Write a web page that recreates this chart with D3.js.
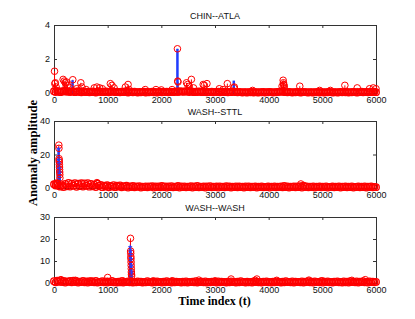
<!DOCTYPE html>
<html>
<head>
<meta charset="utf-8">
<script src="https://cdn.jsdelivr.net/npm/d3@7"></script>
<style>
body { margin: 0; background: #fff; }
text { font-family: "Liberation Sans", Arial, sans-serif; }
</style>
</head>
<body>
<script>
// subplot titles and tick labels
const titles = ["CHIN--ATLA", "WASH--STTL", "WASH--WASH"];
const xTicks = [0, 1000, 2000, 3000, 4000, 5000, 6000];
const yTicks1 = [0, 2, 4];
const yTicks2 = [0, 20, 40];
const yTicks3 = [0, 10, 20, 30];
const yMax = [4, 40, 30];

// low level background values, one every `step` time indices (0..6000)
const step = 30;
const band1 = [
  0.10,0.06,0.12,0.08,0.05,0.11,0.09,0.12,0.07,0.10,0.06,0.09,0.11,0.05,0.08,0.10,0.06,0.04,0.09,0.07,
  0.05,0.08,0.04,0.06,0.09,0.05,0.03,0.07,0.10,0.06,0.08,0.05,0.09,0.07,0.04,0.06,0.10,0.08,0.05,0.07,
  0.06,0.04,0.08,0.05,0.09,0.07,0.03,0.05,0.06,0.04,0.07,0.05,0.03,0.06,0.04,0.05,0.07,0.03,0.06,0.04,
  0.05,0.07,0.04,0.06,0.03,0.05,0.08,0.04,0.06,0.05,0.07,0.04,0.06,0.08,0.05,0.07,0.09,0.06,0.10,0.08,
  0.09,0.07,0.11,0.08,0.06,0.10,0.07,0.05,0.08,0.06,0.09,0.07,0.05,0.06,0.08,0.04,0.06,0.05,0.07,0.04,
  0.06,0.05,0.07,0.04,0.06,0.08,0.05,0.07,0.04,0.06,0.05,0.09,0.07,0.05,0.04,0.06,0.05,0.03,0.05,0.04,
  0.03,0.05,0.04,0.06,0.03,0.05,0.04,0.03,0.05,0.04,0.06,0.03,0.05,0.04,0.06,0.05,0.03,0.05,0.04,0.06,
  0.07,0.09,0.08,0.06,0.05,0.04,0.06,0.05,0.03,0.05,0.04,0.06,0.05,0.03,0.04,0.06,0.05,0.04,0.03,0.05,
  0.04,0.03,0.05,0.04,0.06,0.03,0.05,0.04,0.03,0.05,0.04,0.06,0.05,0.03,0.04,0.05,0.03,0.04,0.06,0.04,
  0.05,0.04,0.06,0.03,0.05,0.04,0.06,0.05,0.03,0.04,0.05,0.07,0.04,0.05,0.06,0.04,0.05,0.07,0.06,0.08,
  0.05
];
const band2 = [
  2.2,1.5,2.8,1.2,0.8,1.6,0.6,2.4,1.0,3.0,0.9,2.6,1.4,2.9,0.7,2.5,1.1,2.8,0.9,2.7,
  1.3,2.9,0.8,2.4,1.0,2.0,0.6,2.6,1.2,1.8,0.5,1.4,0.9,1.6,0.4,1.2,0.8,1.7,0.5,1.3,
  0.9,1.5,0.4,1.1,0.7,1.3,0.3,1.0,0.6,1.2,0.4,0.9,0.7,1.1,0.3,0.8,0.6,1.0,0.4,0.9,
  0.7,1.1,0.3,0.9,0.5,1.0,0.4,1.2,0.6,0.9,0.3,1.0,0.5,1.1,0.4,0.8,0.6,1.2,0.3,0.9,
  0.5,1.0,0.4,0.8,0.6,1.1,0.3,0.9,0.5,1.2,0.4,0.8,0.6,1.0,0.3,0.9,0.5,1.1,0.4,0.8,
  0.6,1.0,0.3,0.9,0.5,0.8,0.4,1.1,0.6,0.9,0.3,0.8,0.5,1.0,0.4,0.9,0.6,0.8,0.3,1.0,
  0.5,0.9,0.4,0.8,0.6,1.0,0.3,0.8,0.5,0.9,0.4,0.7,0.6,1.0,0.3,0.8,0.5,0.9,0.4,0.8,
  0.6,1.0,0.4,1.2,0.5,0.9,0.3,0.8,0.6,1.0,0.4,0.9,0.5,1.1,0.3,1.3,0.6,0.9,0.4,0.8,
  0.5,0.9,0.3,0.8,0.6,1.0,0.4,0.8,0.5,0.9,0.3,0.7,0.6,0.9,0.4,0.8,0.5,1.0,0.3,0.8,
  0.6,0.9,0.4,0.8,0.5,1.0,0.3,0.7,0.6,0.9,0.4,0.8,0.5,0.9,0.3,0.8,0.6,0.9,0.4,0.7,
  0.5
];
const band3 = [
  0.8,0.3,1.0,0.5,1.2,0.4,0.9,0.2,0.7,0.5,0.9,0.3,1.1,0.4,0.8,0.2,0.6,0.4,0.9,0.3,
  0.7,0.2,0.8,0.4,0.6,0.3,0.9,0.2,0.5,0.4,0.8,0.3,0.7,0.2,0.6,0.4,0.9,0.3,0.5,0.2,
  0.6,0.3,0.8,0.2,0.5,0.4,0.7,0.3,0.6,0.2,0.5,0.3,0.7,0.4,0.6,0.2,0.5,0.3,0.8,0.4,
  0.5,0.2,0.6,0.3,0.7,0.4,0.5,0.2,0.6,0.3,0.8,0.4,0.5,0.2,0.7,0.3,0.6,0.4,0.5,0.2,
  0.6,0.3,0.7,0.2,0.5,0.4,0.6,0.3,0.8,0.2,0.5,0.4,0.6,0.3,0.7,0.2,0.5,0.3,0.6,0.4,
  0.5,0.2,0.7,0.3,0.6,0.4,0.5,0.2,0.6,0.3,0.7,0.4,0.5,0.2,0.6,0.3,0.8,0.4,0.5,0.2,
  0.6,0.3,0.5,0.2,0.7,0.4,0.6,0.3,0.5,0.2,0.6,0.4,0.7,0.3,0.5,0.2,0.6,0.3,0.7,0.4,
  0.5,0.2,0.6,0.3,0.8,0.4,0.5,0.3,0.7,0.2,0.6,0.4,0.5,0.3,0.7,0.2,0.6,0.4,0.8,0.3,
  0.6,0.2,0.7,0.4,0.5,0.3,0.8,0.2,0.6,0.4,0.7,0.3,0.5,0.2,0.6,0.4,0.7,0.3,0.5,0.2,
  0.7,0.3,0.6,0.2,0.8,0.4,0.5,0.3,0.7,0.2,0.6,0.4,0.8,0.3,0.5,0.2,0.7,0.4,0.6,0.3,
  0.5
];

// larger red points (time index, amplitude)
const peakT1 = [10,15,25,40,170,190,210,230,250,300,350,420,500,520,600,750,800,850,900,1050,1080,1120,1330,1380,1400,1700,1900,2000,2200,
  2300,2305,2310,2470,2490,2520,2560,2600,2780,2800,2850,3080,3150,3230,3350,3360,3700,4250,4270,4275,4280,4285,4290,4580,4950,5150,5420,5650,5880,5950,6000];
const peakV1 = [1.28,0.55,0.6,0.35,0.8,0.7,0.6,0.65,0.45,0.3,0.78,0.25,0.6,0.35,0.2,0.3,0.35,0.3,0.25,0.55,0.45,0.3,0.35,0.5,0.2,0.2,0.2,0.18,0.2,
  2.6,0.7,0.65,0.6,0.5,0.4,0.8,0.3,0.5,0.45,0.55,0.25,0.2,0.55,0.3,0.35,0.15,0.4,0.75,0.6,0.5,0.45,0.35,0.4,0.15,0.15,0.45,0.3,0.25,0.3,0.25];
const peakT2 = [30,60,90,92,94,96,98,100,102,104,106,108,110,800,4600];
const peakV2 = [2.6,2.4,25.6,23.7,17.5,16.5,15.5,14,12.5,11,9.5,8,6,3.2,2.4];
const peakT3 = [130,400,700,1000,1280,1425,1428,1430,1432,1434,1436,1438,1440,1442,1444,1446,1850,2200,2700,3000,3300,3750,3780,4150,4750,5000,5550,5800];
const peakV3 = [1.5,1.2,1.0,2.5,1.0,20.3,14.5,13.5,12,11,9.5,8,6.5,5,4,3.2,1.0,1.0,1.3,1.0,1.8,1.2,1.8,1.2,1.3,1.0,1.2,1.5];

// detected anomalies (blue stems)
const anomT1 = [345, 2300, 3350];
const anomV1 = [0.75, 2.6, 0.73];
const anomT2 = [85, 90, 95, 100, 105];
const anomV2 = [23.5, 17, 15, 12, 9.5];
const anomT3 = [1420, 1425, 1430, 1435, 1440, 1445];
const anomV3 = [16.5, 15, 13, 11, 8, 5];

const bands = [band1, band2, band3];
const peaksT = [peakT1, peakT2, peakT3], peaksV = [peakV1, peakV2, peakV3];
const anomsT = [anomT1, anomT2, anomT3], anomsV = [anomV1, anomV2, anomV3];
const yTicks = [yTicks1, yTicks2, yTicks3];

const tops = [25, 121, 217];
const bottoms = [93, 188, 283];
const left = 54, right = 376;

let svg = d3.select("body").append("svg")
    .attr("width", 415)
    .attr("height", 319);

let x = d3.scaleLinear().domain([0, 6000]).range([left, right]);

for (let p = 0; p < 3; p++) {
    let y = d3.scaleLinear().domain([0, yMax[p]]).range([bottoms[p], tops[p]]);
    let g = svg.append("g");

    let pts = bands[p].map((v, i) => ({t: i * step, v: v, band: true}));
    peaksT[p].forEach((t, i) => pts.push({t: t, v: peaksV[p][i], band: false}));
    let anoms = anomsT[p].map((t, i) => ({t: t, v: anomsV[p][i]}));

    // axes, ticks pointing inwards, box on
    g.append("g")
        .attr("transform", `translate(0,${bottoms[p]})`)
        .call(d3.axisBottom(x).tickValues(xTicks).tickSize(-3).tickPadding(3.5).tickFormat(d3.format("d")));
    g.append("g")
        .attr("transform", `translate(0,${tops[p]})`)
        .call(d3.axisTop(x).tickValues(xTicks).tickSize(-3).tickFormat(""));
    g.append("g")
        .attr("transform", `translate(${left},0)`)
        .call(d3.axisLeft(y).tickValues(yTicks[p]).tickSize(-3).tickPadding(4).tickFormat(d3.format("d")));
    g.append("g")
        .attr("transform", `translate(${right},0)`)
        .call(d3.axisRight(y).tickValues(yTicks[p]).tickSize(-3).tickFormat(""));
    g.selectAll(".domain").attr("stroke", "#333");
    g.selectAll(".tick line").attr("stroke", "#333");
    g.selectAll(".tick text").attr("font-size", 9).attr("fill", "#111")
        .attr("font-family", "'Liberation Sans', Arial, sans-serif");

    // title
    g.append("text")
        .attr("x", (left + right) / 2)
        .attr("y", tops[p] - 6.5)
        .attr("text-anchor", "middle")
        .attr("font-size", 9)
        .attr("fill", "#111")
        .text(titles[p]);

    // red stems
    g.selectAll(".rstem").data(pts).join("line")
        .attr("x1", d => x(d.t)).attr("x2", d => x(d.t))
        .attr("y1", y(0)).attr("y2", d => y(d.v))
        .attr("stroke", "#ff0000").attr("stroke-width", 1);

    // blue stems
    g.selectAll(".bstem").data(anoms).join("line")
        .attr("x1", d => x(d.t)).attr("x2", d => x(d.t))
        .attr("y1", y(0)).attr("y2", d => y(d.v))
        .attr("stroke", "#1f3dff").attr("stroke-width", 2.5);

    // red circle markers
    g.selectAll(".rdot").data(pts).join("circle")
        .attr("cx", d => x(d.t)).attr("cy", d => y(d.v))
        .attr("r", 3.3)
        .attr("fill", "none")
        .attr("stroke", "#ff0000").attr("stroke-width", d => d.band ? 1.3 : 1);

    // blue plus markers
    if (p > 0) {
        g.selectAll(".bmark").data(anoms).join("path")
            .attr("d", d => `M${x(d.t) - 2},${y(d.v)}H${x(d.t) + 2}M${x(d.t)},${y(d.v) - 2}V${y(d.v) + 2}`)
            .attr("stroke", "#2a3cff").attr("stroke-width", 1);
    }
}

// axis labels
svg.append("text")
    .attr("transform", "translate(37,153) rotate(-90)")
    .attr("text-anchor", "middle")
    .style("font-family", "'Liberation Serif', 'Times New Roman', serif")
    .style("font-weight", "bold")
    .style("font-size", "12.5px")
    .text("Anomaly amplitude");

svg.append("text")
    .attr("x", 214.5)
    .attr("y", 304.5)
    .attr("text-anchor", "middle")
    .style("font-family", "'Liberation Serif', 'Times New Roman', serif")
    .style("font-weight", "bold")
    .style("font-size", "12px")
    .text("Time index (t)");
</script>
</body>
</html>
